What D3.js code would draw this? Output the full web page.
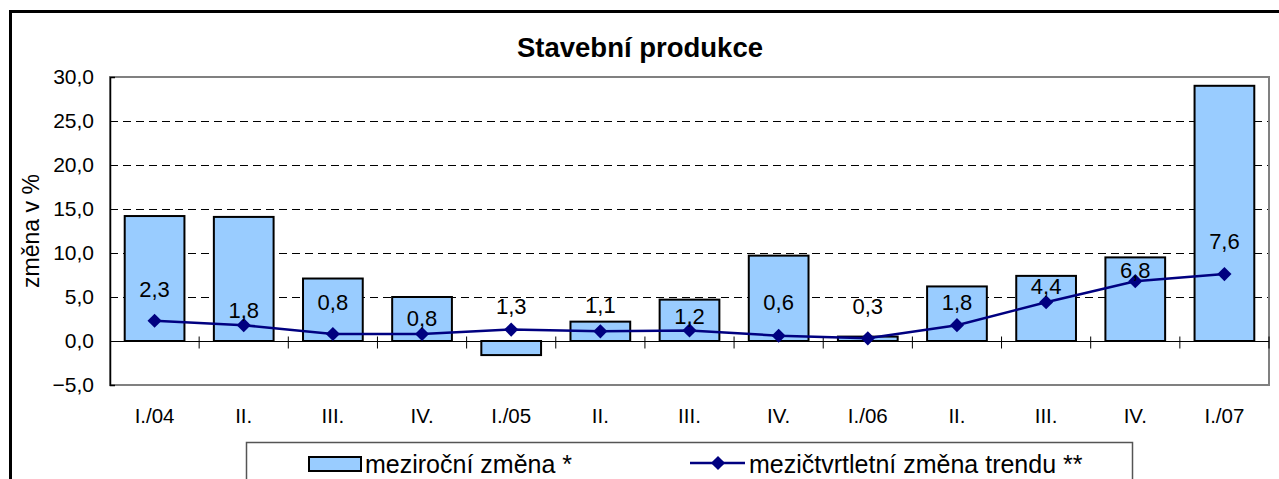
<!DOCTYPE html>
<html>
<head>
<meta charset="utf-8">
<script src="https://cdn.jsdelivr.net/npm/d3@7"></script>
<style>
  body { margin: 0; background: #fff; }
  svg { display: block; font-family: "Liberation Sans", Arial, sans-serif; }
</style>
</head>
<body>
<div id="chart"></div>
<script>
// data
const categories = ['I./04', 'II.', 'III.', 'IV.', 'I./05', 'II.', 'III.', 'IV.', 'I./06', 'II.', 'III.', 'IV.', 'I./07'];
const yearChange = [14.2, 14.1, 7.1, 5.0, -1.6, 2.2, 4.7, 9.7, 0.5, 6.2, 7.4, 9.5, 29.0];
const trendChange = [2.3, 1.8, 0.8, 0.8, 1.3, 1.1, 1.2, 0.6, 0.3, 1.8, 4.4, 6.8, 7.6];
const yTicks = [-5, 0, 5, 10, 15, 20, 25, 30];
const seriesNames = ['meziroční změna *', 'mezičtvrtletní změna trendu **'];

// how far each value label sits above its point (hand-nudged in the original)
const labelLift = [32, 15, 32, 16, 24, 26, 14, 34, 32, 23, 16, 11, 33];

const W = 1279, H = 479;
const plot = { left: 110, right: 1269, top: 77, bottom: 385 };

const cz = d3.formatLocale({ decimal: ',', thousands: ' ', grouping: [3], currency: ['', ' Kč'] });
const fmt = cz.format('.1f');

const svg = d3.select('#chart').append('svg')
  .attr('width', W)
  .attr('height', H);

// outer frame (runs past the right and bottom edge)
svg.append('rect')
  .attr('x', 10.5).attr('y', 11.5)
  .attr('width', W + 20).attr('height', H + 20)
  .attr('fill', '#fff')
  .attr('stroke', '#000')
  .attr('stroke-width', 3);

const keys = categories.map((c, i) => i);

const x = d3.scaleBand()
  .domain(keys)
  .range([plot.left, plot.right])
  .paddingInner(0.33)
  .paddingOuter(0.165);

const xCat = d3.scaleBand()
  .domain(keys)
  .range([plot.left, plot.right]);

const y = d3.scaleLinear()
  .domain([-5, 30])
  .range([plot.bottom, plot.top]);

// title
svg.append('text')
  .attr('x', 640).attr('y', 57)
  .attr('text-anchor', 'middle')
  .attr('font-size', 27.5)
  .attr('font-weight', 'bold')
  .text('Stavební produkce');

// gridlines
svg.append('g')
  .selectAll('line')
  .data(yTicks.filter(t => t !== 0 && t !== -5 && t !== 30))
  .join('line')
    .attr('x1', plot.left).attr('x2', plot.right)
    .attr('y1', d => Math.round(y(d)) + 0.5).attr('y2', d => Math.round(y(d)) + 0.5)
    .attr('stroke', '#000')
    .attr('stroke-dasharray', '8,5');

// plot border
svg.append('rect')
  .attr('x', plot.left).attr('y', plot.top)
  .attr('width', plot.right - plot.left)
  .attr('height', plot.bottom - plot.top)
  .attr('fill', 'none')
  .attr('stroke', '#808080')
  .attr('stroke-width', 2);

// y axis
const yAxis = svg.append('g')
  .attr('transform', `translate(${plot.left},0)`)
  .call(d3.axisRight(y).tickValues(yTicks).tickSize(5).tickFormat(''));
yAxis.select('.domain').attr('stroke', '#000').attr('stroke-width', 1.5);
yAxis.selectAll('.tick line').attr('stroke', '#000');

svg.append('g')
  .selectAll('text')
  .data(yTicks)
  .join('text')
    .attr('x', 94)
    .attr('y', d => y(d))
    .attr('dy', '0.35em')
    .attr('text-anchor', 'end')
    .attr('font-size', 21)
    .text(d => fmt(d));

svg.append('text')
  .attr('transform', `translate(39, ${(plot.top + plot.bottom) / 2}) rotate(-90)`)
  .attr('text-anchor', 'middle')
  .attr('font-size', 23)
  .text('změna v %');

// bars
svg.append('g')
  .selectAll('rect')
  .data(yearChange)
  .join('rect')
    .attr('x', (d, i) => x(i))
    .attr('width', x.bandwidth())
    .attr('y', d => y(Math.max(d, 0)))
    .attr('height', d => Math.abs(y(d) - y(0)))
    .attr('fill', '#99ccff')
    .attr('stroke', '#000')
    .attr('stroke-width', 2);

// zero axis with category ticks
const zeroY = Math.round(y(0)) + 0.5;
svg.append('line')
  .attr('x1', plot.left).attr('x2', plot.right)
  .attr('y1', zeroY).attr('y2', zeroY)
  .attr('stroke', '#000');
svg.append('g')
  .selectAll('line')
  .data(d3.range(1, categories.length + 1))
  .join('line')
    .attr('x1', i => i < categories.length ? xCat(i) : plot.right)
    .attr('x2', i => i < categories.length ? xCat(i) : plot.right)
    .attr('y1', zeroY - 5).attr('y2', zeroY + 7)
    .attr('stroke', '#000');

// x labels
svg.append('g')
  .selectAll('text')
  .data(categories)
  .join('text')
    .attr('x', (d, i) => xCat(i) + xCat.bandwidth() / 2)
    .attr('y', 423)
    .attr('text-anchor', 'middle')
    .attr('font-size', 20.5)
    .text(d => d);

// trend line
const cx = i => xCat(i) + xCat.bandwidth() / 2;
const line = d3.line()
  .x((d, i) => cx(i))
  .y(d => y(d));

svg.append('path')
  .datum(trendChange)
  .attr('d', line)
  .attr('fill', 'none')
  .attr('stroke', '#000080')
  .attr('stroke-width', 2.5);

const diamond = d3.symbol().type(d3.symbolSquare).size(100);

svg.append('g')
  .selectAll('path')
  .data(trendChange)
  .join('path')
    .attr('d', diamond)
    .attr('transform', (d, i) => `translate(${cx(i)},${y(d)}) rotate(45)`)
    .attr('fill', '#000080');

svg.append('g')
  .selectAll('text')
  .data(trendChange)
  .join('text')
    .attr('x', (d, i) => cx(i))
    .attr('y', (d, i) => y(d) - labelLift[i] + 8)
    .attr('text-anchor', 'middle')
    .attr('font-size', 22)
    .text(d => fmt(d));

// legend
svg.append('rect')
  .attr('x', 246.5).attr('y', 442.5)
  .attr('width', 886).attr('height', 60)
  .attr('fill', '#fff')
  .attr('stroke', '#555')
  .attr('stroke-width', 1.5);

svg.append('rect')
  .attr('x', 309).attr('y', 457)
  .attr('width', 52).attr('height', 14)
  .attr('fill', '#99ccff')
  .attr('stroke', '#000')
  .attr('stroke-width', 2);

svg.append('text')
  .attr('x', 365).attr('y', 473)
  .attr('font-size', 25)
  .text(seriesNames[0]);

svg.append('line')
  .attr('x1', 690).attr('x2', 745)
  .attr('y1', 463).attr('y2', 463)
  .attr('stroke', '#000080')
  .attr('stroke-width', 2.5);

svg.append('path')
  .attr('d', diamond)
  .attr('transform', 'translate(718,463) rotate(45)')
  .attr('fill', '#000080');

svg.append('text')
  .attr('x', 749).attr('y', 473)
  .attr('font-size', 25)
  .text(seriesNames[1]);
</script>
</body>
</html>
